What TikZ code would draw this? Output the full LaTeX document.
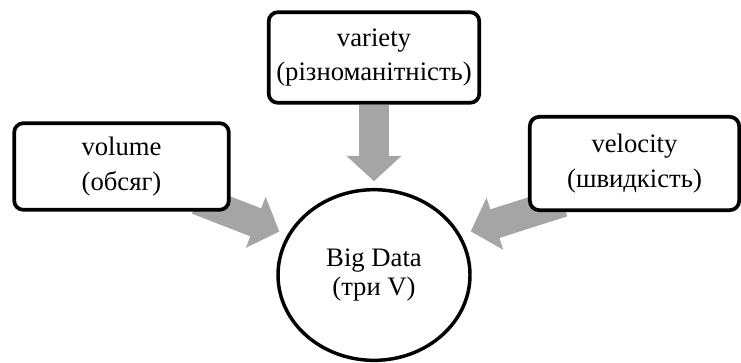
\documentclass[tikz,border=0pt]{standalone}
\usepackage{fontspec}
\setmainfont{Liberation Serif}
\usetikzlibrary{arrows.meta, shapes.geometric, backgrounds}
\definecolor{arrowgray}{HTML}{A5A5A5}

\begin{document}
\begin{tikzpicture}[x=0.75pt, y=-0.75pt]
	\tikzstyle{vbox} = [rectangle, rounded corners=7pt, line width=2.8pt, 
	draw=black, fill=white, align=center, inner sep=0pt, 
	font=\fontsize{20}{26}\selectfont]
	\tikzstyle{core} = [ellipse, line width=2.6pt, draw=black, fill=white, 
	minimum width=144pt, minimum height=128pt, inner sep=0pt, align=center, 
	font=\fontsize{20}{21}\selectfont]
	\tikzstyle{arrow} = [draw=arrowgray, line width=22.5pt, 
	-{Triangle[length=19pt, width=40pt]}]
	\useasboundingbox (0,0) rectangle (741,362);
	\node (bigData) [core] at (374,275) {Big Data\\(три V)};
	\node (volume) [vbox, minimum width=161pt, minimum height=65pt] at (121.5,166.5) {volume\\(обсяг)};
	\node (variety) [vbox, minimum width=158pt, minimum height=68pt] at (374,57.5) {variety\\(різноманітність)};
	\node (velocity) [vbox, minimum width=157pt, minimum height=70pt] at (634.5,163.5) {velocity\\(швидкість)};
	\begin{scope}[on background layer]
	\draw [arrow, shorten >=6.5pt] ([xshift=-25pt, yshift=9pt]volume.south east) -- (bigData.155);
	\draw [arrow, shorten >=5pt] (variety.south) -- (bigData.north);
	\draw [arrow, shorten >=8pt] ([xshift=26pt, yshift=7.5pt]velocity.south west) -- (bigData.25);
	\end{scope}
\end{tikzpicture}
\end{document}
